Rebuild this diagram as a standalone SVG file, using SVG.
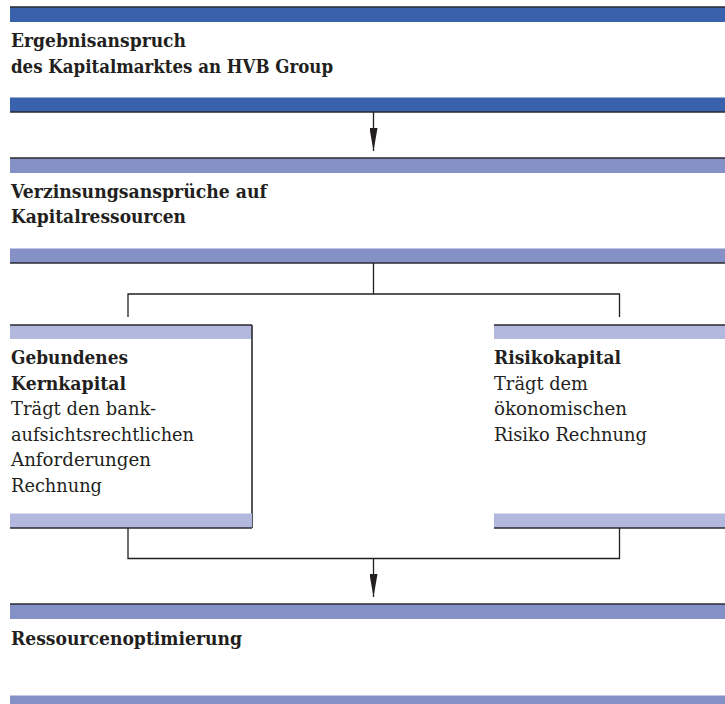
<svg xmlns="http://www.w3.org/2000/svg" width="725" height="704" viewBox="0 0 725 704">
<style>
.bg{fill:#ffffff}
.b1{fill:#3a61ab}
.b2{fill:#8490c6}
.b3{fill:#b3b9de}
.edge{stroke:#2b2a33;stroke-width:1.6;fill:none}
.con{stroke:#231f20;stroke-width:1.3;fill:none}
text{font-family:'DejaVu Serif','Liberation Serif',serif;font-size:19px;fill:#231f20}
.bold{font-weight:bold}
</style>
<defs>
<marker id="ah" viewBox="0 0 23 8" refX="23" refY="4" markerWidth="23" markerHeight="8" markerUnits="userSpaceOnUse" orient="auto">
<path d="M0,0 L23,4 L0,8 Z" fill="#231f20"/>
</marker>
</defs>
<rect class="bg" x="0" y="0" width="725" height="704"/>

<g id="n1">
<rect class="b1" x="10" y="7" width="715" height="15"/>
<line class="edge" x1="10" y1="7" x2="725" y2="7"/>
<text class="bold" x="11" y="47" textLength="175" lengthAdjust="spacingAndGlyphs">Ergebnisanspruch</text>
<text class="bold" x="11" y="73" textLength="322" lengthAdjust="spacingAndGlyphs">des Kapitalmarktes an HVB Group</text>
<rect class="b1" x="10" y="97.5" width="715" height="14.5"/>
<line class="edge" x1="10" y1="112" x2="725" y2="112"/>
</g>

<g id="n2">
<rect class="b2" x="10" y="158" width="715" height="15"/>
<line class="edge" x1="10" y1="158" x2="725" y2="158"/>
<text class="bold" x="11" y="198" textLength="256" lengthAdjust="spacingAndGlyphs">Verzinsungsansprüche auf</text>
<text class="bold" x="11" y="223" textLength="175" lengthAdjust="spacingAndGlyphs">Kapitalressourcen</text>
<rect class="b2" x="10" y="248.5" width="715" height="14.5"/>
<line class="edge" x1="10" y1="263" x2="725" y2="263"/>
</g>

<g id="n3">
<rect class="b3" x="10" y="325" width="242" height="14"/>
<line class="edge" x1="10" y1="325" x2="252" y2="325"/>
<line class="edge" x1="252" y1="325" x2="252" y2="528"/>
<text class="bold" x="11" y="364" textLength="117" lengthAdjust="spacingAndGlyphs">Gebundenes</text>
<text class="bold" x="11" y="389.5" textLength="115" lengthAdjust="spacingAndGlyphs">Kernkapital</text>
<text x="11" y="415" textLength="145" lengthAdjust="spacingAndGlyphs">Trägt den bank-</text>
<text x="11" y="440.5" textLength="183" lengthAdjust="spacingAndGlyphs">aufsichtsrechtlichen</text>
<text x="11" y="466" textLength="140" lengthAdjust="spacingAndGlyphs">Anforderungen</text>
<text x="11" y="491.5" textLength="91" lengthAdjust="spacingAndGlyphs">Rechnung</text>
<rect class="b3" x="10" y="513.5" width="242" height="14.5"/>
<line class="edge" x1="10" y1="528" x2="252" y2="528"/>
</g>

<g id="n4">
<rect class="b3" x="494" y="325" width="231" height="14"/>
<line class="edge" x1="494" y1="325" x2="725" y2="325"/>
<text class="bold" x="494" y="364" textLength="127" lengthAdjust="spacingAndGlyphs">Risikokapital</text>
<text x="494" y="389.5" textLength="94" lengthAdjust="spacingAndGlyphs">Trägt dem</text>
<text x="494" y="415" textLength="133" lengthAdjust="spacingAndGlyphs">ökonomischen</text>
<text x="494" y="440.5" textLength="153" lengthAdjust="spacingAndGlyphs">Risiko Rechnung</text>
<rect class="b3" x="494" y="513.5" width="231" height="14.5"/>
<line class="edge" x1="494" y1="528" x2="725" y2="528"/>
</g>

<g id="n5">
<rect class="b2" x="10" y="604" width="715" height="15"/>
<line class="edge" x1="10" y1="604" x2="725" y2="604"/>
<text class="bold" x="11" y="645" textLength="231" lengthAdjust="spacingAndGlyphs">Ressourcenoptimierung</text>
<rect class="b2" x="10" y="695.5" width="715" height="8.5"/>
</g>

<g id="connectors">
<line class="con" x1="373.5" y1="112" x2="373.5" y2="151" marker-end="url(#ah)"/>
<path class="con" d="M373.5,263 V294 M128,317 V294 H619.5 V317"/>
<path class="con" d="M128,528 V558.5 H619.5 V528"/>
<line class="con" x1="373.5" y1="558.5" x2="373.5" y2="597" marker-end="url(#ah)"/>
</g>
</svg>
